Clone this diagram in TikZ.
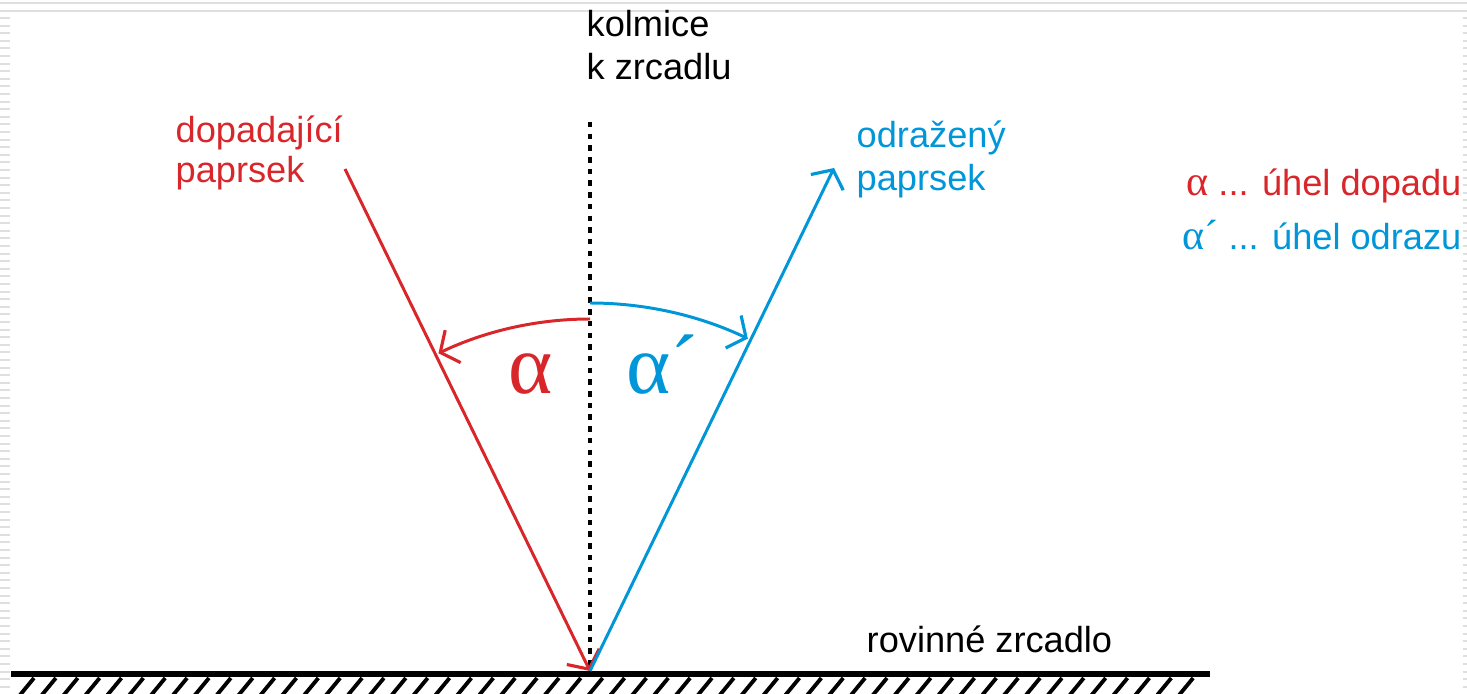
\documentclass[tikz,border=0pt]{standalone}
\usepackage{fontspec}
\setmainfont{Liberation Sans}
\newfontfamily\greekfont{Liberation Serif}
\usetikzlibrary{arrows.meta}

\definecolor{rayred}{HTML}{D8262A}
\definecolor{rayblue}{HTML}{0096D8}

\begin{document}
\begin{tikzpicture}[
    lbl/.style={anchor=base west, inner sep=0pt, font=\fontsize{10.3}{12}\selectfont},
    legend/.style={anchor=base east, inner sep=0pt, font=\fontsize{10.3}{12}\selectfont},
    bigalpha/.style={anchor=base west, inner sep=0pt, font=\greekfont\fontsize{24}{26}\selectfont},
    ray/.style={line width=0.85pt, -{Straight Barb[length=1.4mm, width=3.6mm, line width=0.9pt]}},
    hatch/.style={line width=1.1pt},
    frame/.style={gray!25, line width=0.6pt}
]
    \useasboundingbox (0,0) rectangle (14.67,6.93);

    % Screen edges
    \draw[frame] (0,6.90) -- (14.67,6.90);
    \draw[frame] (0,6.82) -- (14.67,6.82);
    \draw[gray!25, line width=0.1cm, dash pattern=on 0.02cm off 0.056cm] (0.05,6.76) -- (0.05,0);
    \draw[gray!25, line width=0.04cm, dash pattern=on 0.02cm off 0.056cm] (14.65,6.76) -- (14.65,0);

    % Mirror
    \draw[line width=1.8pt] (0.11,0.19) -- (12.10,0.19);
    \foreach \i in {0,...,53}
        \draw[hatch] (0.20+0.2187*\i,-0.02) -- ++(0.14,0.17);
    \node[lbl] (mirror) at (8.66,0.41) {rovinné zrcadlo};

    % Normal
    \coordinate (hit) at (5.90,0.22);
    \coordinate (normTop) at (5.90,5.71);
    \coordinate (normBot) at (5.90,0.25);
    \draw[line width=1pt, dash pattern=on 0.055cm off 0.062cm] (normTop) -- (normBot);
    \node[lbl] (kolA) at (5.86,6.56) {kolmice};
    \node[lbl] (kolB) at (5.86,6.13) {k zrcadlu};

    % Incident ray
    \coordinate (inStart) at (3.45,5.24);
    \draw[ray, rayred] (inStart) -- (hit);
    \node[lbl, rayred] (inA) at (1.75,5.50) {dopadající};
    \node[lbl, rayred] (inB) at (1.75,5.10) {paprsek};

    % Reflected ray
    \coordinate (outEnd) at (8.34,5.25);
    \draw[ray, rayblue] (hit) -- (outEnd);
    \node[lbl, rayblue] (outA) at (8.56,5.45) {odražený};
    \node[lbl, rayblue] (outB) at (8.56,5.02) {paprsek};

    % Angles
    \draw[ray, rayred] ([shift={(90:3.52)}]hit) arc[start angle=90, end angle=115.5, radius=3.52];
    \draw[ray, rayblue] ([shift={(90:3.68)}]hit) arc[start angle=90, end angle=64.6, radius=3.68];
    \node[bigalpha, rayred] (alphaIn) at (5.08,2.99) {α};
    \node[bigalpha, rayblue] (alphaOut) at (6.26,2.99) {α´};

    % Legend
    \node[legend, rayred] (legIn) at (14.62,4.97) {{\greekfont\fontsize{12}{14}\selectfont α} ... úhel dopadu};
    \node[legend, rayblue] (legOut) at (14.62,4.43) {{\greekfont\fontsize{12}{14}\selectfont α´} ... úhel odrazu};

\end{tikzpicture}
\end{document}
